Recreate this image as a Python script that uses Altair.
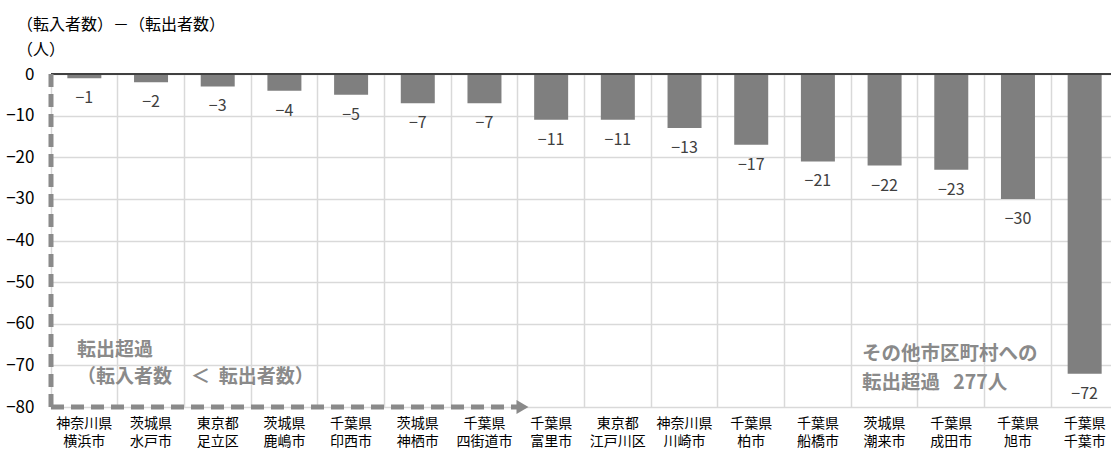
import altair as alt
import pandas as pd

# ---- data -------------------------------------------------------------
prefs = ["神奈川県", "茨城県", "東京都", "茨城県", "千葉県", "茨城県", "千葉県", "千葉県",
         "東京都", "神奈川県", "千葉県", "千葉県", "茨城県", "千葉県", "千葉県", "千葉県"]
cities = ["横浜市", "水戸市", "足立区", "鹿嶋市", "印西市", "神栖市", "四街道市", "富里市",
          "江戸川区", "川崎市", "柏市", "船橋市", "潮来市", "成田市", "旭市", "千葉市"]
values = [-1, -2, -3, -4, -5, -7, -7, -11, -11, -13, -17, -21, -22, -23, -30, -72]

y_ticks = [0, -10, -20, -30, -40, -50, -60, -70, -80]
title_lines = ["（転入者数）－（転出者数）", "（人）"]

NBSP = "\u00a0"
left_note = ["転出超過", "（転入者数　＜" + NBSP * 2 + "転出者数）"]
left_note_y = [-66.2, -72.8]
right_note = ["その他市区町村への", "転出超過" + NBSP * 3 + "277人"]
right_note_y = [-67.2, -74.2]

FONT = "Noto Sans CJK JP"
BAR = "#7f7f7f"
NOTE = "#8a8a8a"
GRID = "#d9d9d9"

cats = [f"{p}|{c}" for p, c in zip(prefs, cities)]
df = pd.DataFrame({"cat": cats, "value": values})

xscale = alt.Scale(domain=cats, paddingInner=0, paddingOuter=0)
yscale = alt.Scale(domain=[-80, 0], nice=False)

x_axis = alt.Axis(
    title=None, domain=False, ticks=False, grid=True, bandPosition=0,
    gridColor=GRID, gridWidth=1.5,
    labelExpr="split(datum.label, '|')", labelFontSize=14, labelLineHeight=18,
    labelColor="#000000", labelPadding=9, labelAngle=0, labelFont=FONT,
)
y_axis = alt.Axis(
    title=None, domain=False, ticks=False, values=y_ticks, grid=True,
    gridColor=GRID, gridWidth=1.5, labelFontSize=17, labelColor="#000000",
    labelPadding=17, labelFont=FONT,
)

base = alt.Chart(df)

bars = base.mark_bar(color=BAR, size=34).encode(
    x=alt.X("cat:N", scale=xscale, axis=x_axis, sort=cats),
    y=alt.Y("value:Q", scale=yscale, axis=y_axis),
)

labels = base.mark_text(
    baseline="middle", align="center", dy=20, fontSize=16, color="#404040", font=FONT
).encode(
    x=alt.X("cat:N", scale=xscale, sort=cats),
    y=alt.Y("value:Q", scale=yscale),
    text=alt.Text("value:Q", format="d"),
)

zero = alt.Chart(pd.DataFrame({"y": [0]})).mark_rule(color="#404040", strokeWidth=2).encode(
    y=alt.Y("y:Q", scale=yscale)
)

# dashed arrow guides
vline_df = pd.DataFrame({"cat": [cats[0]], "y": [0], "y2": [-80]})
vline = alt.Chart(vline_df).mark_rule(
    color=NOTE, strokeWidth=5, strokeDash=[13, 7]
).encode(
    x=alt.X("cat:N", scale=xscale, sort=cats, bandPosition=0),
    y=alt.Y("y:Q", scale=yscale),
    y2="y2:Q",
)

hline_df = pd.DataFrame({"a": [cats[0]], "b": [cats[7]], "y": [-80]})
hline = alt.Chart(hline_df).mark_rule(
    color=NOTE, strokeWidth=5, strokeDash=[13, 7]
).encode(
    x=alt.X("a:N", scale=xscale, sort=cats, bandPosition=0),
    x2=alt.X2("b:N", bandPosition=0),
    y=alt.Y("y:Q", scale=yscale),
)

arrow_df = pd.DataFrame({"cat": [cats[7]], "y": [-80]})
arrow = alt.Chart(arrow_df).mark_point(
    shape="triangle-right", filled=True, color=NOTE, size=190, opacity=1
).encode(
    x=alt.X("cat:N", scale=xscale, sort=cats, bandPosition=0.07),
    y=alt.Y("y:Q", scale=yscale),
)

lnote_df = pd.DataFrame({"cat": [cats[0]] * 2, "y": left_note_y, "t": left_note})
lnote = alt.Chart(lnote_df).mark_text(
    align="left", baseline="middle", fontSize=19, fontWeight="bold", color=NOTE, font=FONT
).encode(
    x=alt.X("cat:N", scale=xscale, sort=cats, bandPosition=0.39),
    y=alt.Y("y:Q", scale=yscale),
    text="t:N",
)

rnote_df = pd.DataFrame({"cat": [cats[12]] * 2, "y": right_note_y, "t": right_note})
rnote = alt.Chart(rnote_df).mark_text(
    align="left", baseline="middle", fontSize=19.5, fontWeight="bold", color=NOTE, font=FONT
).encode(
    x=alt.X("cat:N", scale=xscale, sort=cats, bandPosition=0.16),
    y=alt.Y("y:Q", scale=yscale),
    text="t:N",
)

chart = alt.layer(bars, zero, labels, vline, hline, arrow, lnote, rnote).properties(
    width=1067,
    height=333,
    padding={"left": 51, "top": 74, "right": -7, "bottom": 45},
    autosize=alt.AutoSizeParams(type="none"),
    title=alt.TitleParams(
        text=title_lines, anchor="start", frame="group", dx=-34, offset=7,
        fontSize=16, fontWeight="normal", lineHeight=25, color="#000000", font=FONT,
    ),
).configure_view(stroke=None).configure(font=FONT, background="white")

chart.save("out.html", embed_options={"renderer": "svg", "actions": False})
